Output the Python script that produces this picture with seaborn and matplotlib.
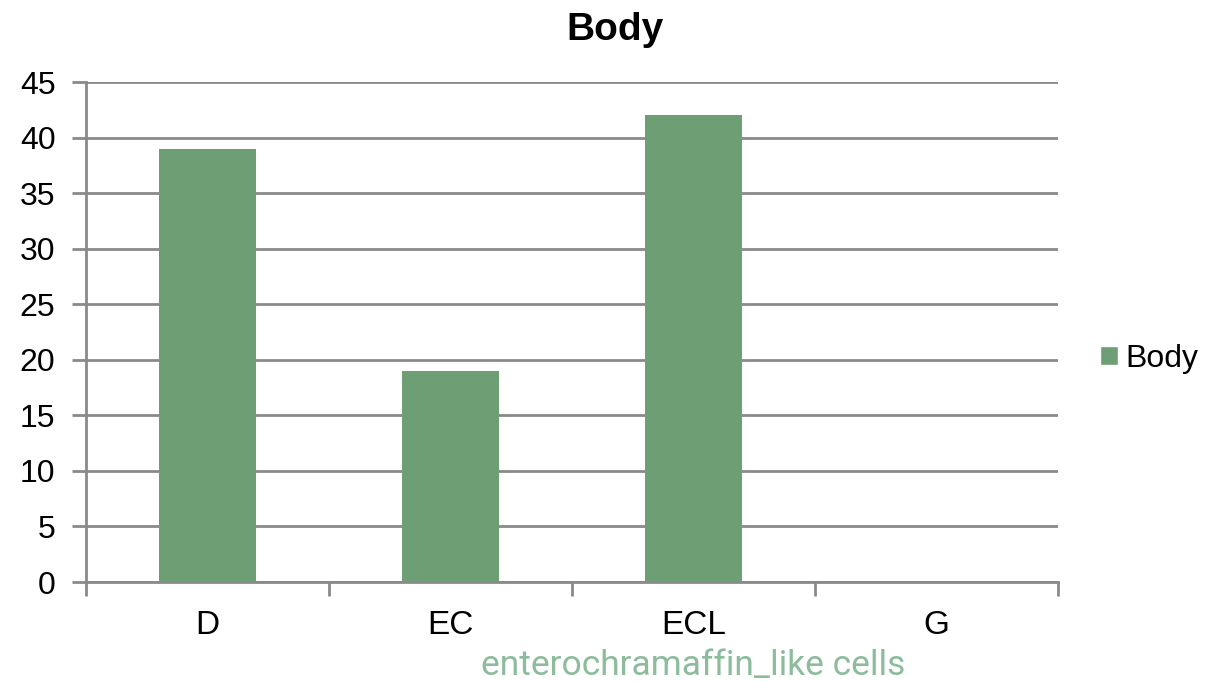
import matplotlib
matplotlib.use("Agg")
import matplotlib.pyplot as plt
import seaborn as sns
import pandas as pd
import numpy as np
from matplotlib.patches import Patch

categories = ["D", "EC", "ECL", "G"]
values = [39, 19, 42, 0]
series_name = "Body"

sns.set_theme(style="white")
plt.rcParams['font.family'] = ['Liberation Sans', 'DejaVu Sans']
plt.rcParams['text.color'] = 'black'

df = pd.DataFrame({"cat": categories, "val": values})

fig = plt.figure(figsize=(12.06, 6.82), dpi=100)
ax = fig.add_axes([86/1206, 1-582/682, (1058-86)/1206, 500/682])

bar_color = "#6e9e74"
grid_color = "#8a8a8a"
sns.barplot(data=df, x="cat", y="val", color=bar_color, width=0.40,
            saturation=1, linewidth=0, ax=ax, zorder=3)

ax.set_ylim(0, 45)
ax.set_xlim(-0.5, len(categories) - 0.5)
ax.set_yticks(np.arange(0, 46, 5))
ax.yaxis.grid(True, color=grid_color, linewidth=2)
ax.set_axisbelow(True)
for s in ["top", "right"]:
    ax.spines[s].set_visible(False)
for s in ["left", "bottom"]:
    ax.spines[s].set_color(grid_color)
    ax.spines[s].set_linewidth(2)

ax.tick_params(axis="y", which="major", length=10, width=2, color=grid_color,
               labelsize=23, labelcolor="black", pad=12, left=True)
ax.tick_params(axis="x", which="major", length=0, labelsize=24,
               labelcolor="black", pad=20)
ax.set_xticks(np.arange(-0.5, len(categories), 1.0), minor=True)
ax.tick_params(axis="x", which="minor", length=10, width=2, color=grid_color,
               bottom=True)

ax.set_ylabel("")
ax.set_xlabel("enterochramaffin_like cells", fontsize=25.5, color="#8cbc9c",
              family=["Roboto", "DejaVu Sans"])
ax.xaxis.set_label_coords((693 - 86) / 972, -0.166)
ax.xaxis.label.set_verticalalignment("center")
ax.set_title("Body", fontsize=28, fontweight="bold", pad=30, color="black",
             x=(615 - 86) / 972)

handles = [Patch(facecolor=bar_color, label=series_name)]
leg = ax.legend(handles=handles, loc="center left", bbox_to_anchor=(1.03, 0.446),
                frameon=False, fontsize=23, handlelength=0.55, handleheight=0.55,
                handletextpad=0.25, borderaxespad=0)

fig.savefig("out.png", dpi=100)
